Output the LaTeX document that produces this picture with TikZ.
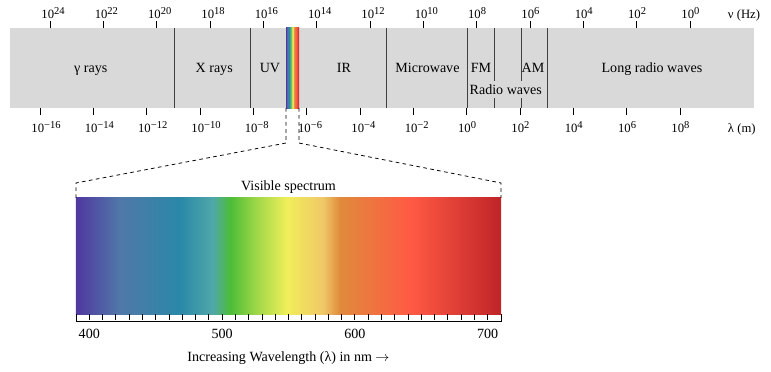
\documentclass[tikz,border=0pt]{standalone}
\usepackage{fontspec}
\setmainfont{Liberation Serif}

\definecolor{vs1}{RGB}{80,56,160}
\definecolor{vs2}{RGB}{80,120,168}
\definecolor{vs3}{RGB}{42,136,168}
\definecolor{vs4}{RGB}{80,168,168}
\definecolor{vs5}{RGB}{76,188,56}
\definecolor{vs6}{RGB}{160,216,72}
\definecolor{vs7}{RGB}{240,238,90}
\definecolor{vs8}{RGB}{240,200,104}
\definecolor{vs9}{RGB}{224,138,60}
\definecolor{vs10}{RGB}{255,90,68}
\definecolor{vs11}{RGB}{192,36,40}

\pgfdeclarehorizontalshading{visspec}{100bp}{color(0bp)=(vs1); color(25bp)=(vs1);
  color(30.18bp)=(vs2); color(37.24bp)=(vs3); color(41.12bp)=(vs4); color(43.12bp)=(vs5);
  color(46.29bp)=(vs6); color(49.82bp)=(vs7); color(54.06bp)=(vs8); color(56.06bp)=(vs9);
  color(64.29bp)=(vs10); color(75bp)=(vs11); color(100bp)=(vs11)}

% power of ten label
\newcommand{\pw}[1]{10\raisebox{2.7pt}{\fontsize{7.5}{7.5}\selectfont\ifnum#1<0 −\number-#1\else#1\fi}}

\begin{document}
\begin{tikzpicture}[x=0.025cm, y=-0.025cm,
    lbl/.style={font=\fontsize{10}{12}\selectfont, inner sep=0pt},
    ticklbl/.style={font=\fontsize{9}{11}\selectfont, inner sep=0pt, anchor=base west},
    band/.style={rectangle, fill=gray!30, inner sep=0pt, outer sep=0pt},
    divider/.style={draw=black!75, line width=0.7pt},
    tick/.style={line width=0.7pt},
    zoomline/.style={dash pattern=on 2.6pt off 2.4pt, line width=0.55pt},
    ruler/.style={line width=0.6pt}
]
    \useasboundingbox (0,0) rectangle (771,371);

    % electromagnetic band
    \node[band, minimum width=18.6cm, minimum height=2cm] (em) at (382,68) {};
    \node[rectangle, shade, shading=visspec, inner sep=0pt, outer sep=0pt,
          minimum width=0.325cm, minimum height=2cm] (vis) at (292.5,68) {};
    \foreach \x in {174,250.3,386.7,467.3,494.3,521,547.3}
        \draw[divider] (\x,28) -- (\x,108);

    \node[lbl, anchor=base] (gamma) at (90.7,72.5) {γ rays};
    \node[lbl, anchor=base] (xray) at (214.2,72.5) {X rays};
    \node[lbl, anchor=base] (uv) at (270,72.5) {UV};
    \node[lbl, anchor=base] (ir) at (344,72.5) {IR};
    \node[lbl, anchor=base] (micro) at (427.5,72.5) {Microwave};
    \node[lbl, anchor=base] (fm) at (481,72.5) {FM};
    \node[lbl, anchor=base] (am) at (533,72.5) {AM};
    \node[lbl, anchor=base] (long) at (652,72.5) {Long radio waves};
    \node[lbl, anchor=base, fill=gray!30, inner xsep=1pt, inner ysep=2.6pt] (radio) at (505.8,94) {Radio waves};

    % frequency axis
    \foreach \e [count=\i from 0] in {24,22,...,0} {
        \draw[tick] ({50+53.333*\i},21) -- ++(0,7);
        \node[ticklbl] (nu\i) at ({41.2+53.333*\i},18.3) {\pw{\e}};
    }
    \node[ticklbl] (nuunit) at (727.7,18.3) {ν (Hz)};

    % wavelength axis
    \foreach \e [count=\i from 0] in {-16,-14,...,8} {
        \draw[tick] ({40+53.333*\i},108) -- ++(0,7);
        \node[ticklbl] (lam\i) at ({31.2+53.333*\i},132.3) {\pw{\e}};
    }
    \node[ticklbl] (lamunit) at (727.7,132.3) {λ (m)};

    % visible part
    \node[rectangle, shade, shading=visspec, inner sep=0pt, outer sep=0pt,
          minimum width=10.625cm, minimum height=2.9cm] (spec) at (288.5,256) {};
    \node[lbl, anchor=base] (vistitle) at (288.5,190.7) {Visible spectrum};

    \draw[zoomline] (vis.south west) -- ++(0,35) -- ([yshift=0.375cm]spec.north west) -- (spec.north west);
    \draw[zoomline] (vis.south east) -- ++(0,35) -- ([yshift=0.375cm]spec.north east) -- (spec.north east);

    \draw[ruler] (spec.south west) -- ++(0,7) -| (spec.south east);
    \foreach \n in {400,410,...,700}
        \draw[ruler] ({76+(\n-390)*1.328125},314) -- ++(0,6);
    \foreach \n in {400,500,600,700}
        \node[lbl, anchor=base] (nm\n) at ({76+(\n-390)*1.328125},338.3) {\n};

    \node[lbl, anchor=base] (axtitle) at (288.5,361.7) {Increasing Wavelength (λ) in nm $\rightarrow$};
\end{tikzpicture}
\end{document}
